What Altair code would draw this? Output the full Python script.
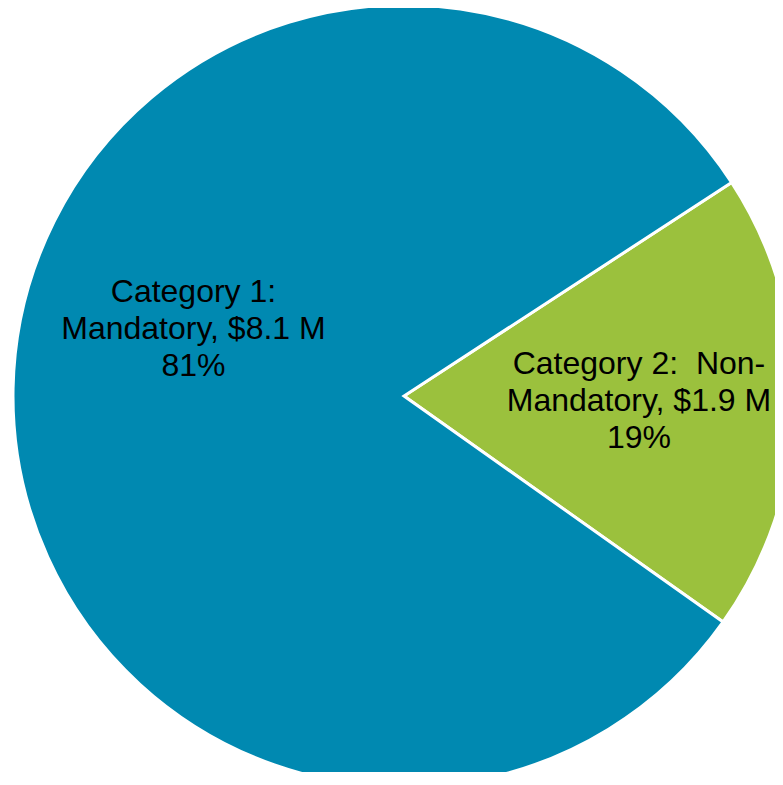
import math
import altair as alt
import pandas as pd

categories = ["Category 2: Non-Mandatory", "Category 1: Mandatory"]
values = [1.9, 8.1]
label_lines = ["Category 2:\u00a0 Non-\nMandatory, $1.9 M\n19%", "Category 1:\nMandatory, $8.1 M\n81%"]
colors = ["#9BC13D", "#0089B1"]
order = [0, 1]

df = pd.DataFrame({"category": categories, "value": values, "label": label_lines, "ord": order})

start = math.radians(56.9)
theta = alt.Theta("value:Q", stack=True, scale=alt.Scale(range=[start, start + 2 * math.pi]))
cx, cy = 396, 388

base = alt.Chart(df).encode(
    theta=theta,
    order=alt.Order("ord:Q"),
    x=alt.value(cx),
    y=alt.value(cy),
)

pie = base.mark_arc(radius=391, stroke="white", strokeWidth=3).encode(
    color=alt.Color("category:N", scale=alt.Scale(domain=categories, range=colors), legend=None)
)

txt_kw = dict(font="Liberation Sans", fontSize=32, lineBreak="\n", lineHeight=37,
              align="center", baseline="middle", color="black", dy=-37)

lab2 = base.mark_text(radius=235, **txt_kw).encode(
    text=alt.condition(alt.datum.ord == 0, "label:N", alt.value(""))
)
lab1 = base.mark_text(radius=221, thetaOffset=0.29, **txt_kw).encode(
    text=alt.condition(alt.datum.ord == 1, "label:N", alt.value(""))
)

chart = (pie + lab2 + lab1).properties(
    width=767, height=764, padding=0, autosize=alt.AutoSizeParams(type="none")
).configure_view(stroke=None)

chart.save("out.html", embed_options={"renderer": "svg", "actions": False})
